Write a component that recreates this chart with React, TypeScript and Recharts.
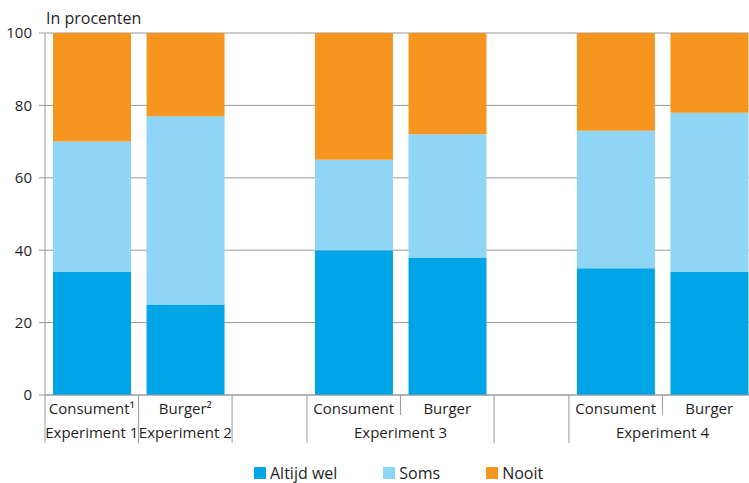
import React from 'react';
import { BarChart, Bar, XAxis, YAxis, CartesianGrid, Legend } from 'recharts';

// ---- data ----
const categories = ['Consument\u00B9', 'Burger\u00B2', 'Consument', 'Burger', 'Consument', 'Burger'];
const experiments = ['Experiment 1', 'Experiment 2', 'Experiment 3', 'Experiment 4'];
const altijdWel = [34, 25, 40, 38, 35, 34];
const soms = [36, 52, 25, 34, 38, 44];
const nooit = [30, 23, 35, 28, 27, 22];
const yTicks = [0, 20, 40, 60, 80, 100];
const seriesNames = ['Altijd wel', 'Soms', 'Nooit'];

// ---- layout of axis slots (units on the x scale) ----
const slotUnits = [5, 5, 4, 5, 5, 4, 5, 5];
const slotCat: (number | null)[] = [0, 1, null, 2, 3, null, 4, 5];
const slotExp: (number | null)[] = [0, 1, null, 2, 2, null, 3, 3];

const COLORS = ['#00a5e8', '#8fd6f6', '#f6951f'];
const FONT = "'Open Sans', sans-serif";
const TEXT = '#1f1f1f';
const GRID = '#9a9a9a';

const starts: number[] = [];
{
  let acc = 0;
  for (const u of slotUnits) {
    starts.push(acc);
    acc += u;
  }
}
const totalUnits = slotUnits.reduce((a, b) => a + b, 0);

const catPos: number[] = [];
slotCat.forEach((c, i) => {
  if (c !== null) catPos[c] = starts[i] + slotUnits[i] / 2;
});

const expPos: number[] = experiments.map((_, e) => {
  const idx = slotExp.map((v, i) => (v === e ? i : -1)).filter((i) => i >= 0);
  const a = starts[idx[0]];
  const b = starts[idx[idx.length - 1]] + slotUnits[idx[idx.length - 1]];
  return (a + b) / 2;
});

const boundaries = starts.map((s, i) => ({
  v: s,
  short: i > 0 && slotExp[i] !== null && slotExp[i] === slotExp[i - 1],
}));

const data = categories.map((name, i) => ({
  name,
  pos: catPos[i],
  altijd: altijdWel[i],
  soms: soms[i],
  nooit: nooit[i],
}));

const tickValues = Array.from(
  new Set([...boundaries.map((b) => b.v), ...catPos, ...expPos])
).sort((a, b) => a - b);

const near = (a: number, b: number) => Math.abs(a - b) < 1e-6;

const XTick = (props: any) => {
  const { x, y, payload } = props;
  const v = payload.value;
  const els: React.ReactNode[] = [];
  const b = boundaries.find((bb) => near(bb.v, v));
  if (b) {
    els.push(
      <line key="l" x1={x} y1={y} x2={x} y2={y + (b.short ? 20 : 48)} stroke={GRID} strokeWidth={1} />
    );
  }
  const ci = catPos.findIndex((p) => near(p, v));
  if (ci >= 0) {
    els.push(
      <text key="c" x={x} y={y + 19} textAnchor="middle" fontSize={15} fontFamily={FONT} fill={TEXT}>
        {categories[ci]}
      </text>
    );
  }
  const ei = expPos.findIndex((p) => near(p, v));
  if (ei >= 0) {
    els.push(
      <text key="e" x={x} y={y + 43} textAnchor="middle" fontSize={15} fontFamily={FONT} fill={TEXT}>
        {experiments[ei]}
      </text>
    );
  }
  return <g>{els}</g>;
};

const LegendContent = (props: any) => {
  const payload = [...(props.payload || [])].sort(
    (a: any, b: any) => seriesNames.indexOf(a.value) - seriesNames.indexOf(b.value)
  );
  return (
    <div style={{ height: 30, display: 'flex', alignItems: 'flex-start', paddingLeft: 254, paddingTop: 10, boxSizing: 'border-box' }}>
      {payload.map((p: any, i: number) => (
        <div key={i} style={{ display: 'flex', alignItems: 'center', marginRight: i < payload.length - 1 ? 46 : 0 }}>
          <span style={{ display: 'inline-block', width: 12, height: 12, background: p.color, marginRight: 4 }} />
          <span style={{ fontFamily: FONT, fontSize: 16, color: TEXT, lineHeight: '20px' }}>{p.value}</span>
        </div>
      ))}
    </div>
  );
};

export default function App() {
  return (
    <div style={{ position: 'absolute', left: 0, top: 0, width: 749, height: 483, overflow: 'hidden', background: '#fff' }}>
      <svg width={300} height={32} style={{ position: 'absolute', left: 0, top: 0 }}>
        <text x={46} y={24} fontSize={16} fontFamily={FONT} fill={TEXT}>
          In procenten
        </text>
      </svg>
      <BarChart
        width={760}
        height={483}
        data={data}
        margin={{ top: 33, right: 4, left: 0, bottom: 0 }}
        barSize={78}
      >
        <CartesianGrid vertical={false} stroke={GRID} strokeWidth={1} />
        <XAxis
          dataKey="pos"
          type="number"
          domain={[0, totalUnits]}
          ticks={tickValues}
          interval={0}
          allowDataOverflow
          tickLine={false}
          tickSize={0}
          tickMargin={0}
          axisLine={{ stroke: GRID }}
          height={58}
          tick={<XTick />}
        />
        <YAxis
          domain={[0, 100]}
          ticks={yTicks}
          width={45}
          tickSize={6}
          tickMargin={7}
          axisLine={{ stroke: GRID }}
          tickLine={{ stroke: GRID }}
          tick={{ fontSize: 15, fontFamily: FONT, fill: TEXT }}
        />
        <Legend verticalAlign="bottom" content={<LegendContent />} />
        <Bar dataKey="altijd" name={seriesNames[0]} stackId="a" fill={COLORS[0]} isAnimationActive={false} />
        <Bar dataKey="soms" name={seriesNames[1]} stackId="a" fill={COLORS[1]} isAnimationActive={false} />
        <Bar dataKey="nooit" name={seriesNames[2]} stackId="a" fill={COLORS[2]} isAnimationActive={false} />
      </BarChart>
    </div>
  );
}
